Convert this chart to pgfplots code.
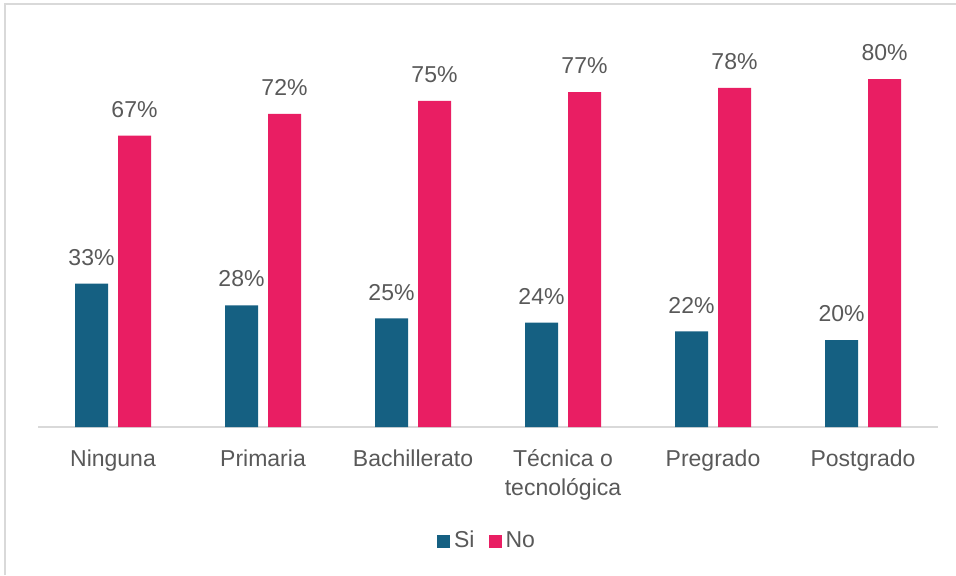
\documentclass[border=0pt]{standalone}
\usepackage{pgfplots}
\pgfplotsset{compat=1.18}
\usepackage{fontspec}
\setmainfont{Liberation Sans}
\definecolor{siblue}{HTML}{156082}
\definecolor{nopink}{HTML}{E91E63}
\definecolor{txtgray}{HTML}{595959}
\definecolor{linegray}{HTML}{D9D9D9}
\begin{document}
\begin{tikzpicture}
\useasboundingbox (-19pt,-74pt) rectangle (459pt,213.5pt);
\draw[linegray, line width=0.8pt] (-16.5pt,-74pt) -- (-16.5pt,211.5pt) -- (459pt,211.5pt);
\begin{axis}[
    at={(0,0)}, anchor=south west,
    scale only axis,
    width=450pt, height=203.5pt,
    ybar=5pt, bar width=16.5pt,
    ymin=0, ymax=93.6,
    xmin=-0.5, xmax=5.5,
    axis x line*=bottom,
    axis y line=none,
    x axis line style={linegray, line width=0.8pt},
    xtick=data,
    major tick length=0pt,
    xticklabels={\strut Ninguna, \strut Primaria, \strut Bachillerato, \strut Técnica o\\tecnológica, \strut Pregrado, \strut Postgrado},
    xticklabel style={align=center, font=\fontsize{11.5}{14.5}\selectfont, text=txtgray, yshift=-6pt},
    /pgf/number format/assume math mode=true,
    nodes near coords={\pgfmathprintnumber\pgfplotspointmeta\%},
    every node near coord/.append style={font=\fontsize{11.5}{14}\selectfont, text=txtgray, anchor=south, yshift=5.5pt},
    legend style={at={(0.5,0)}, anchor=center, yshift=-57pt, draw=none, legend columns=2,
        font=\fontsize{11.5}{14}\selectfont, text=txtgray,
        /tikz/every even column/.append style={column sep=5pt}},
    legend image code/.code={\fill[#1] (0pt,-3.25pt) rectangle (6.5pt,3.25pt);},
    legend cell align=left,
]
\addplot[fill=siblue, draw=none] coordinates {(0,33) (1,28) (2,25) (3,24) (4,22) (5,20)};
\addplot[fill=nopink, draw=none] coordinates {(0,67) (1,72) (2,75) (3,77) (4,78) (5,80)};
\legend{Si, No}
\end{axis}
\end{tikzpicture}
\end{document}
